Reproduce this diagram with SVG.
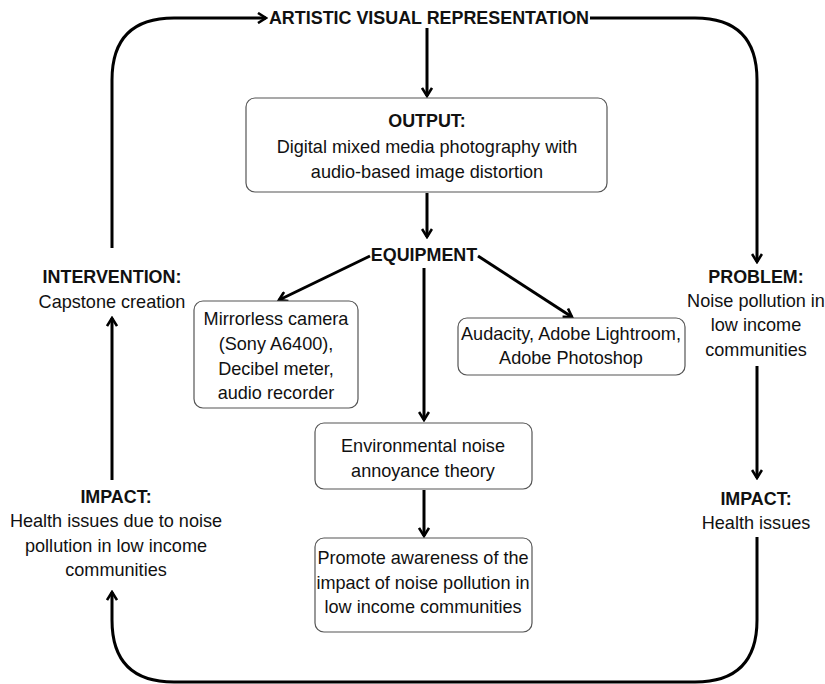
<svg xmlns="http://www.w3.org/2000/svg" width="825" height="684" viewBox="0 0 825 684">
<defs>
<style>
text{font-family:"Liberation Sans",Arial,sans-serif;font-size:18.1px;fill:#111;text-anchor:middle}
.b{font-weight:bold;font-size:17.9px}
.box{fill:#fff;stroke:#555;stroke-width:1.2}
.c{fill:none;stroke:#000;stroke-width:3}
</style>
<marker id="ah" viewBox="0 0 12 12" refX="10" refY="6" markerWidth="12" markerHeight="12" markerUnits="userSpaceOnUse" orient="auto">
<path d="M2,1 L10,6 L2,11" fill="none" stroke="#000" stroke-width="2.6"/>
</marker>
</defs>
<rect width="825" height="684" fill="#fff"/>
<g id="connectors">
<path class="c" d="M112,248 L112,80 Q112,18 174,18 L266,18" marker-end="url(#ah)"/>
<path class="c" d="M590,18 L695,18 Q757,18 757,80 L757,262" marker-end="url(#ah)"/>
<path class="c" d="M427,28 L427,96" marker-end="url(#ah)"/>
<path class="c" d="M427,193 L427,237" marker-end="url(#ah)"/>
<path class="c" d="M370,256 L279,300" marker-end="url(#ah)"/>
<path class="c" d="M478,256 L572,317" marker-end="url(#ah)"/>
<path class="c" d="M424,268 L424,420" marker-end="url(#ah)"/>
<path class="c" d="M424,490 L424,536" marker-end="url(#ah)"/>
<path class="c" d="M757,366 L757,478" marker-end="url(#ah)"/>
<path class="c" d="M757,537 L757,620 Q757,682 695,682 L174,682 Q112,682 112,620 L112,592" marker-end="url(#ah)"/>
<path class="c" d="M112,480 L112,318" marker-end="url(#ah)"/>
</g>
<g id="artistic"><text class="b" x="429" y="24">ARTISTIC VISUAL REPRESENTATION</text></g>
<g id="output">
<rect class="box" x="246" y="98" width="361" height="94" rx="9"/>
<text class="b" x="427" y="127">OUTPUT:</text>
<text x="427" y="153">Digital mixed media photography with</text>
<text x="427" y="178">audio-based image distortion</text>
</g>
<g id="equipment"><text class="b" x="424" y="261">EQUIPMENT</text></g>
<g id="mirrorless">
<rect class="box" x="194" y="301" width="164" height="107" rx="9"/>
<text x="276" y="325">Mirrorless camera</text>
<text x="276" y="350">(Sony A6400),</text>
<text x="276" y="375">Decibel meter,</text>
<text x="276" y="399">audio recorder</text>
</g>
<g id="software">
<rect class="box" x="458" y="318" width="227" height="57" rx="9"/>
<text x="571" y="340">Audacity, Adobe Lightroom,</text>
<text x="571" y="364">Adobe Photoshop</text>
</g>
<g id="theory">
<rect class="box" x="315" y="423" width="217" height="66" rx="9"/>
<text x="423" y="452">Environmental noise</text>
<text x="423" y="477">annoyance theory</text>
</g>
<g id="promote">
<rect class="box" x="315" y="538" width="217" height="94" rx="9"/>
<text x="423" y="564">Promote awareness of the</text>
<text x="423" y="589">impact of noise pollution in</text>
<text x="423" y="613">low income communities</text>
</g>
<g id="intervention">
<text class="b" x="112" y="283">INTERVENTION:</text>
<text x="112" y="308">Capstone creation</text>
</g>
<g id="problem">
<text class="b" x="756" y="283">PROBLEM:</text>
<text x="756" y="307">Noise pollution in</text>
<text x="756" y="331">low income</text>
<text x="756" y="356">communities</text>
</g>
<g id="impact-left">
<text class="b" x="116" y="503">IMPACT:</text>
<text x="116" y="527">Health issues due to noise</text>
<text x="116" y="552">pollution in low income</text>
<text x="116" y="576">communities</text>
</g>
<g id="impact-right">
<text class="b" x="756" y="505">IMPACT:</text>
<text x="756" y="529">Health issues</text>
</g>
</svg>
